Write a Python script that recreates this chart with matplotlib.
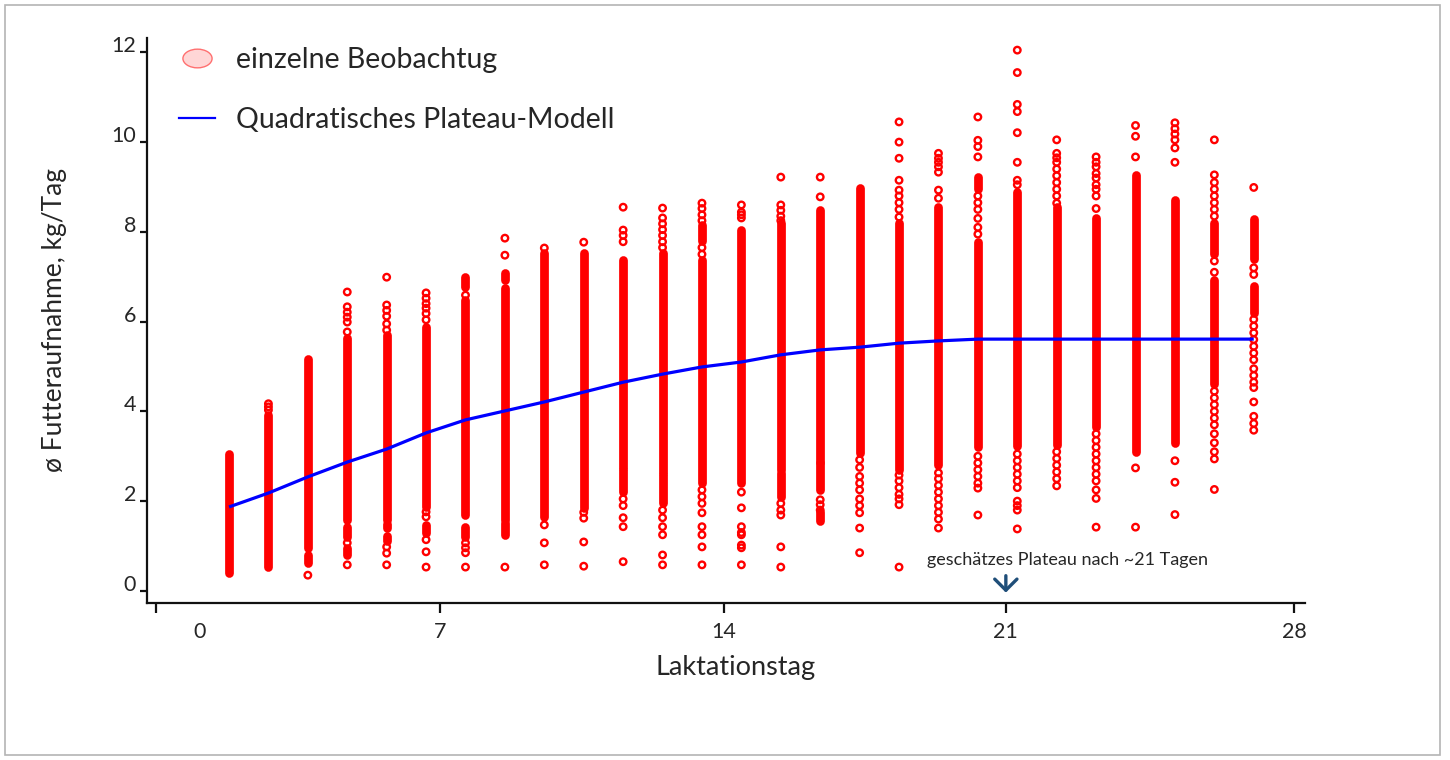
import matplotlib
matplotlib.use("Agg")
import matplotlib.pyplot as plt
from matplotlib.lines import Line2D
from matplotlib.patches import Rectangle
from matplotlib.path import Path
from matplotlib.transforms import ScaledTranslation, Affine2D

plt.rcParams['font.family'] = ['Lato', 'DejaVu Sans']

# ---- data -------------------------------------------------------------
days = list(range(1, 28))

# dense (solid-looking) runs of observations per day: (low, high)
dense_runs = [
    [(0.40, 3.05)],
    [(0.53, 3.92)],
    [(0.96, 5.17), (0.62, 0.80)],
    [(1.58, 5.63), (1.20, 1.43), (0.80, 0.96)],
    [(1.58, 5.70), (1.40, 1.50), (1.12, 1.23)],
    [(1.87, 5.88), (1.29, 1.47)],
    [(1.69, 6.48), (6.77, 6.99), (1.20, 1.43)],
    [(1.58, 6.75), (6.93, 7.08), (1.25, 1.51)],
    [(1.65, 7.53)],
    [(1.85, 7.53)],
    [(2.74, 7.37), (2.20, 2.69)],
    [(2.63, 7.53), (1.95, 2.58)],
    [(2.41, 7.37), (7.80, 8.15)],
    [(2.41, 8.04)],
    [(2.69, 8.20), (2.10, 2.63)],
    [(2.87, 8.49), (2.25, 2.85), (1.55, 1.75)],
    [(3.07, 8.98)],
    [(2.69, 8.20)],
    [(2.81, 8.55)],
    [(3.21, 7.77), (8.95, 9.22)],
    [(3.22, 8.88)],
    [(3.26, 8.56)],
    [(3.66, 8.32)],
    [(3.10, 9.27)],
    [(3.30, 8.70)],
    [(4.61, 6.92), (7.50, 8.20)],
    [(7.40, 8.28), (6.20, 6.80)],
]

# single, separately visible observations per day
single_obs = [
    [],
    [4.03, 4.10, 4.17],
    [0.35],
    [6.66, 6.33, 6.21, 6.10, 5.99, 5.77, 1.07, 0.58],
    [6.99, 6.37, 6.25, 6.12, 5.95, 5.81, 0.98, 0.84, 0.58],
    [6.64, 6.52, 6.40, 6.30, 6.18, 6.04, 1.76, 1.65, 1.14, 0.87, 0.53],
    [6.59, 1.07, 0.96, 0.85, 0.53],
    [7.86, 7.48, 0.53],
    [7.64, 1.47, 1.07, 0.58],
    [7.77, 1.75, 1.62, 1.09, 0.55],
    [8.55, 8.04, 7.92, 7.78, 2.05, 1.90, 1.63, 1.43, 0.65],
    [8.53, 8.31, 8.18, 8.05, 7.92, 7.78, 7.65, 1.80, 1.63, 1.43, 1.25, 0.80, 0.58],
    [8.64, 8.52, 8.38, 8.25, 7.65, 7.50, 2.25, 2.10, 1.95, 1.74, 1.43, 1.25, 0.98, 0.58],
    [8.60, 8.44, 8.38, 8.31, 2.20, 1.85, 1.43, 1.30, 1.25, 1.02, 0.96, 0.58],
    [9.22, 8.60, 8.48, 8.35, 8.25, 1.95, 1.80, 1.69, 0.98, 0.53],
    [9.22, 8.78, 2.03, 1.92, 1.80],
    [2.92, 2.75, 2.55, 2.40, 2.25, 2.05, 1.90, 1.74, 1.40, 0.85],
    [10.45, 10.00, 9.64, 9.15, 8.93, 8.80, 8.65, 8.50, 8.33, 2.58, 2.45, 2.30, 2.15, 2.05, 1.92, 0.53],
    [9.75, 9.64, 9.55, 9.45, 9.33, 8.93, 8.75, 2.63, 2.50, 2.35, 2.20, 2.05, 1.90, 1.75, 1.60, 1.40],
    [10.56, 10.04, 9.90, 9.67, 8.80, 8.65, 8.50, 8.30, 8.10, 7.95, 3.00, 2.85, 2.70, 2.55, 2.40, 2.29, 1.69],
    [12.05, 11.55, 10.84, 10.68, 10.21, 9.55, 9.15, 9.05, 3.05, 2.90, 2.75, 2.60, 2.45, 2.30, 2.00, 1.90, 1.80, 1.38],
    [10.05, 9.75, 9.65, 9.55, 9.40, 9.25, 9.10, 8.95, 8.80, 8.64, 3.10, 2.95, 2.80, 2.65, 2.50, 2.34],
    [9.67, 9.55, 9.45, 9.30, 9.20, 9.05, 8.95, 8.80, 8.52, 3.50, 3.35, 3.20, 3.05, 2.90, 2.75, 2.60, 2.45, 2.25, 2.06, 1.42],
    [10.37, 10.13, 9.67, 2.74, 1.42],
    [10.43, 10.30, 10.18, 10.05, 9.87, 9.55, 2.90, 2.42, 1.70],
    [10.05, 9.27, 9.10, 8.95, 8.80, 8.65, 8.50, 8.35, 7.35, 7.10, 4.45, 4.30, 4.15, 4.00, 3.85, 3.70, 3.50, 3.30, 3.10, 2.94, 2.26],
    [8.99, 7.20, 7.05, 6.05, 5.90, 5.75, 5.60, 5.45, 5.30, 5.15, 4.95, 4.80, 4.65, 4.53, 4.21, 3.89, 3.73, 3.58],
]

# quadratic plateau model
model_days = list(range(1, 28))
model_vals = [1.87, 2.18, 2.54, 2.87, 3.16, 3.52, 3.81, 4.01, 4.21, 4.43,
              4.65, 4.83, 4.99, 5.10, 5.26, 5.37, 5.43, 5.52, 5.57, 5.61,
              5.61, 5.61, 5.61, 5.61, 5.61, 5.61, 5.61]

x_tick_labels = ['0', '7', '14', '21', '28']
y_ticks = [0, 2, 4, 6, 8, 10, 12]

# ---- figure -------------------------------------------------------------
RED = '#ff0000'
BLUE = '#0000ff'
TXT = '#262626'

fig = plt.figure(figsize=(14.5, 7.6), dpi=100)
ax = fig.add_axes([0.1014, 0.2066, 0.7986, 0.7434])

# outer frame
fig.patches.append(Rectangle((5 / 1450, 5 / 760), 1435 / 1450, 750 / 760,
                             transform=fig.transFigure, fill=False,
                             edgecolor='#b4b4b4', lw=1.2))

# dense runs as thick vertical strokes of overlapping markers
for d, runs in zip(days, dense_runs):
    for lo, hi in runs:
        ax.vlines(d, lo, hi, color=RED, lw=6.3, capstyle='round', zorder=2)

# separate observations
xs, ys = [], []
for d, obs in zip(days, single_obs):
    for v in obs:
        xs.append(d)
        ys.append(v)
ax.scatter(xs, ys, s=22, facecolors='none', edgecolors=RED, linewidths=1.7, zorder=3)

# model
ax.plot(model_days, model_vals, color=BLUE, lw=2.3, zorder=4,
        solid_capstyle='butt')

# axes layout
ax.set_xlim(-1.08, 28.30)
ax.set_ylim(-0.27, 12.32)
for s in ['top', 'right']:
    ax.spines[s].set_visible(False)
for s in ['left', 'bottom']:
    ax.spines[s].set_linewidth(1.6)
    ax.spines[s].set_color('#111111')

# x tick positions as drawn in the reference (relative to the day columns)
x_tick_pos = [-0.85, 6.35, 13.56, 20.71, 28.02]
ax.set_xticks(x_tick_pos)
ax.set_xticklabels(x_tick_labels)
ax.set_yticks(y_ticks)
ax.set_yticklabels([str(v) for v in y_ticks])
ax.tick_params(axis='x', direction='out', length=7, width=1.6, pad=7,
               labelsize=15.5, labelcolor=TXT, color='#111111')
ax.tick_params(axis='y', direction='out', length=5, width=1.6, pad=3,
               labelsize=15.5, labelcolor=TXT, color='#111111')
for lbl in ax.get_yticklabels():
    lbl.set_verticalalignment('baseline')
first = ax.get_xticklabels()[0]
first.set_transform(first.get_transform() + ScaledTranslation(0.43, 0, fig.dpi_scale_trans))

ax.set_xlabel('Laktationstag', fontsize=19.5, color=TXT, labelpad=10)
ax.xaxis.set_label_coords(0.5086, -0.092)
ax.set_ylabel('ø Futteraufnahme, kg/Tag', fontsize=19, color=TXT, labelpad=32)

# legend
ell = Path.unit_circle().transformed(Affine2D().scale(1.0, 0.64))
h1 = Line2D([], [], ls='none', marker=ell, markersize=21,
            markerfacecolor='#ffd6d6', markeredgecolor='#ff7070', markeredgewidth=1.0)
h2 = Line2D([], [], color=BLUE, lw=1.6)
ax.legend([h1, h2], ['einzelne Beobachtug', 'Quadratisches Plateau-Modell'],
          loc='upper left', bbox_to_anchor=(0.0057, 1.029), frameon=False,
          fontsize=20.5, handlelength=1.26, handletextpad=0.75, labelspacing=1.2,
          labelcolor=TXT)

# plateau annotation
ax.annotate('', xy=(20.71, -0.10), xytext=(20.71, 0.40),
            arrowprops=dict(arrowstyle='->,head_length=0.8,head_width=0.8',
                            color='#1f4e79', lw=2.4))
ax.text(22.28, 0.69, 'geschätzes Plateau nach ~21 Tagen', fontsize=13,
        color=TXT, ha='center', va='center')

fig.savefig('out.png', dpi=100)
